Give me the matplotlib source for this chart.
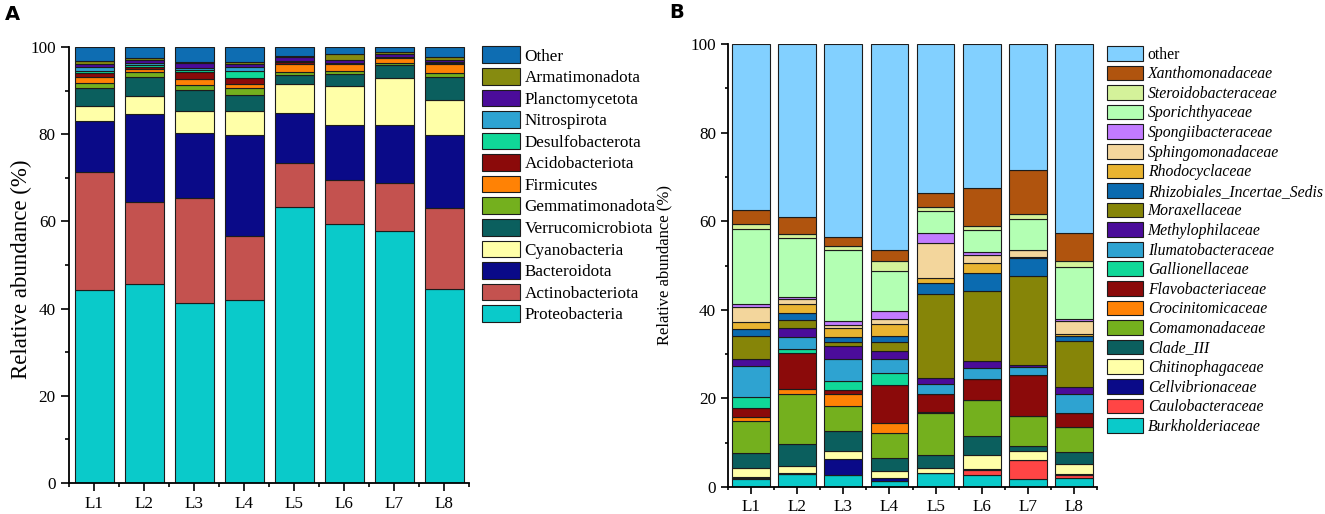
import numpy as np
import matplotlib
matplotlib.use('Agg')
import matplotlib.pyplot as plt
from matplotlib.patches import Patch
from matplotlib.ticker import MultipleLocator

plt.rcParams['font.family'] = ['Liberation Serif', 'DejaVu Serif']

# -----------------------------------------------------------------------------
# Data (relative abundance %, stacked from bottom to top)
# -----------------------------------------------------------------------------
samples = ['L1', 'L2', 'L3', 'L4', 'L5', 'L6', 'L7', 'L8']

phyla = ['Proteobacteria', 'Actinobacteriota', 'Bacteroidota', 'Cyanobacteria',
         'Verrucomicrobiota', 'Gemmatimonadota', 'Firmicutes', 'Acidobacteriota',
         'Desulfobacterota', 'Nitrospirota', 'Planctomycetota', 'Armatimonadota',
         'Other']
phyla_colors = ['#0ACACA', '#C4524F', '#0A0A88', '#FFFFA8', '#0B5F5E', '#74B01E',
                '#FF8205', '#8B0A0A', '#10D898', '#2EA3D1', '#4B0C9A', '#868B10',
                '#0E6DB2']
# one row per sample, columns follow `phyla`
phyla_values = [
    [44.2, 27.2, 11.6, 3.5, 4.1, 1.2, 1.3, 0.9, 0.5, 0.8, 0.9, 0.6, 3.2],
    [45.7, 18.8, 20.1, 4.25, 4.35, 1.1, 0.6, 0.6, 0.3, 0.5, 0.7, 0.5, 2.5],
    [41.2, 24.2, 14.9, 5.0, 4.9, 1.0, 1.4, 1.6, 0.5, 0.5, 1.1, 0.3, 3.4],
    [42.0, 14.6, 23.3, 5.4, 3.6, 1.8, 0.7, 1.6, 1.6, 0.8, 0.7, 0.5, 3.4],
    [63.3, 10.0, 11.6, 6.5, 2.2, 0.6, 2.0, 0.3, 0.1, 0.1, 1.0, 0.3, 2.0],
    [59.4, 10.0, 12.6, 9.1, 2.8, 0.6, 1.5, 0.3, 0.05, 0.05, 0.7, 1.4, 1.5],
    [57.8, 11.0, 13.2, 10.9, 3.0, 0.5, 1.1, 0.2, 0.05, 0.05, 0.7, 0.4, 1.1],
    [44.5, 18.5, 16.9, 8.0, 5.3, 0.8, 2.1, 0.2, 0.1, 0.1, 0.6, 0.6, 2.3],
]

families = ['Burkholderiaceae', 'Caulobacteraceae', 'Cellvibrionaceae',
            'Chitinophagaceae', 'Clade_III', 'Comamonadaceae', 'Crocinitomicaceae',
            'Flavobacteriaceae', 'Gallionellaceae', 'Ilumatobacteraceae',
            'Methylophilaceae', 'Moraxellaceae', 'Rhizobiales_Incertae_Sedis',
            'Rhodocyclaceae', 'Sphingomonadaceae', 'Spongiibacteraceae',
            'Sporichthyaceae', 'Steroidobacteraceae', 'Xanthomonadaceae', 'other']
family_colors = ['#0ACACA', '#FF4545', '#0A0A88', '#FFFFA8', '#0B5F5E', '#74B01E',
                 '#FF8205', '#8B0A0A', '#10D898', '#2EA3D1', '#4B0C9A', '#868508',
                 '#0B6BB0', '#E9B431', '#F3D69C', '#C27BFF', '#B3FFB3', '#D4F29A',
                 '#B0540E', '#82D0FF']
family_values = [
    [1.8, 0.2, 0.2, 2.2, 3.2, 7.4, 0.7, 2.1, 2.6, 7.0, 1.6, 5.1, 1.6, 1.6, 3.4, 0.5, 17.0, 1.2, 3.1, 37.5],
    [2.9, 0.1, 0.1, 1.6, 5.1, 11.3, 1.1, 8.0, 0.9, 2.8, 2.1, 1.6, 1.6, 2.0, 1.2, 0.5, 13.2, 0.9, 3.9, 39.1],
    [2.7, 0.0, 3.6, 1.9, 4.5, 5.6, 2.7, 1.0, 2.0, 4.9, 2.9, 0.9, 1.1, 2.0, 0.8, 0.9, 16.0, 0.9, 2.1, 43.5],
    [1.4, 0.0, 0.6, 1.7, 2.8, 5.6, 2.3, 8.7, 2.6, 3.2, 1.8, 2.0, 1.4, 2.6, 1.3, 1.7, 9.1, 2.3, 2.5, 46.4],
    [3.2, 0.0, 0.0, 1.2, 2.8, 9.6, 0.1, 4.1, 0.0, 2.3, 1.4, 18.8, 2.5, 1.1, 8.0, 2.2, 5.1, 0.9, 3.0, 33.7],
    [2.6, 1.2, 0.2, 3.2, 4.4, 8.0, 0.0, 4.7, 0.0, 2.5, 1.6, 15.9, 3.9, 2.3, 1.9, 0.7, 4.9, 1.0, 8.6, 32.4],
    [1.8, 4.3, 0.0, 2.0, 1.2, 6.8, 0.0, 9.2, 0.0, 1.7, 0.5, 20.1, 4.0, 0.4, 1.5, 0.0, 6.9, 1.2, 10.0, 28.4],
    [2.1, 0.6, 0.2, 2.4, 2.5, 5.8, 0.0, 3.2, 0.0, 4.3, 1.5, 10.4, 1.1, 0.4, 3.0, 0.4, 11.8, 1.3, 6.4, 42.6],
]


def stacked(ax, values, colors, width, major_len):
    vals = np.array(values)
    x = np.arange(1, len(samples) + 1)
    bottom = np.zeros(len(samples))
    for j in range(vals.shape[1]):
        ax.bar(x, vals[:, j], width, bottom=bottom, color=colors[j],
               edgecolor='#1c1c1c', linewidth=0.8, zorder=2)
        bottom += vals[:, j]
    ax.set_xlim(0.5, len(samples) + 0.5)
    ax.set_ylim(0, 100)
    ax.set_xticks(x)
    ax.set_xticklabels(samples)
    ax.xaxis.set_minor_locator(MultipleLocator(1, offset=0.5))
    ax.yaxis.set_major_locator(MultipleLocator(20))
    ax.yaxis.set_minor_locator(MultipleLocator(10))
    for s in ['top', 'right']:
        ax.spines[s].set_visible(False)
    for s in ['left', 'bottom']:
        ax.spines[s].set_linewidth(1.3)
    ax.tick_params(which='major', length=major_len, width=1.2, labelsize=12.3)
    ax.tick_params(which='minor', length=major_len / 2, width=1.2)


fig = plt.figure(figsize=(13.25, 5.14), dpi=100)

# -----------------------------------------------------------------------------
# Panel A
# -----------------------------------------------------------------------------
axA = fig.add_axes([69 / 1325, 1 - 483 / 514, 400 / 1325, 436 / 514])
stacked(axA, phyla_values, phyla_colors, 0.78, 6)
axA.set_ylabel('Relative abundance (%)', fontsize=16.5)
axA.yaxis.set_label_coords(-37 / 400, 0.49)
handlesA = [Patch(facecolor=phyla_colors[j], edgecolor='#1c1c1c', linewidth=0.8,
                  label=phyla[j]) for j in range(len(phyla) - 1, -1, -1)]
fig.legend(handles=handlesA, loc='upper left', bbox_to_anchor=(482 / 1325, 1 - 46.5 / 514),
           frameon=False, fontsize=12.3, handlelength=2.25, handleheight=1.11,
           labelspacing=0.205, handletextpad=0.25, borderpad=0, borderaxespad=0)
fig.text(5 / 1325, 1 - 15 / 514, 'A', fontsize=14, fontweight='bold', va='center',
         family='DejaVu Sans')

# -----------------------------------------------------------------------------
# Panel B
# -----------------------------------------------------------------------------
axB = fig.add_axes([728 / 1325, 1 - 487 / 514, 369 / 1325, 443 / 514])
stacked(axB, family_values, family_colors, 0.82, 5)
axB.set_ylabel('Relative abundance (%)', fontsize=12)
axB.yaxis.set_label_coords(-56 / 369, 0.5)
handlesB = [Patch(facecolor=family_colors[j], edgecolor='#1c1c1c', linewidth=0.8,
                  label=families[j]) for j in range(len(families) - 1, -1, -1)]
legB = fig.legend(handles=handlesB, loc='upper left', bbox_to_anchor=(1107 / 1325, 1 - 46 / 514),
                  frameon=False, fontsize=11.3, handlelength=2.29, handleheight=1.06,
                  labelspacing=0.185, handletextpad=0.3, borderpad=0, borderaxespad=0)
for t in legB.get_texts():
    if t.get_text() != 'other':
        t.set_style('italic')
fig.text(669 / 1325, 1 - 13 / 514, 'B', fontsize=14, fontweight='bold', va='center',
         family='DejaVu Sans')

fig.savefig('out.png', dpi=100)
